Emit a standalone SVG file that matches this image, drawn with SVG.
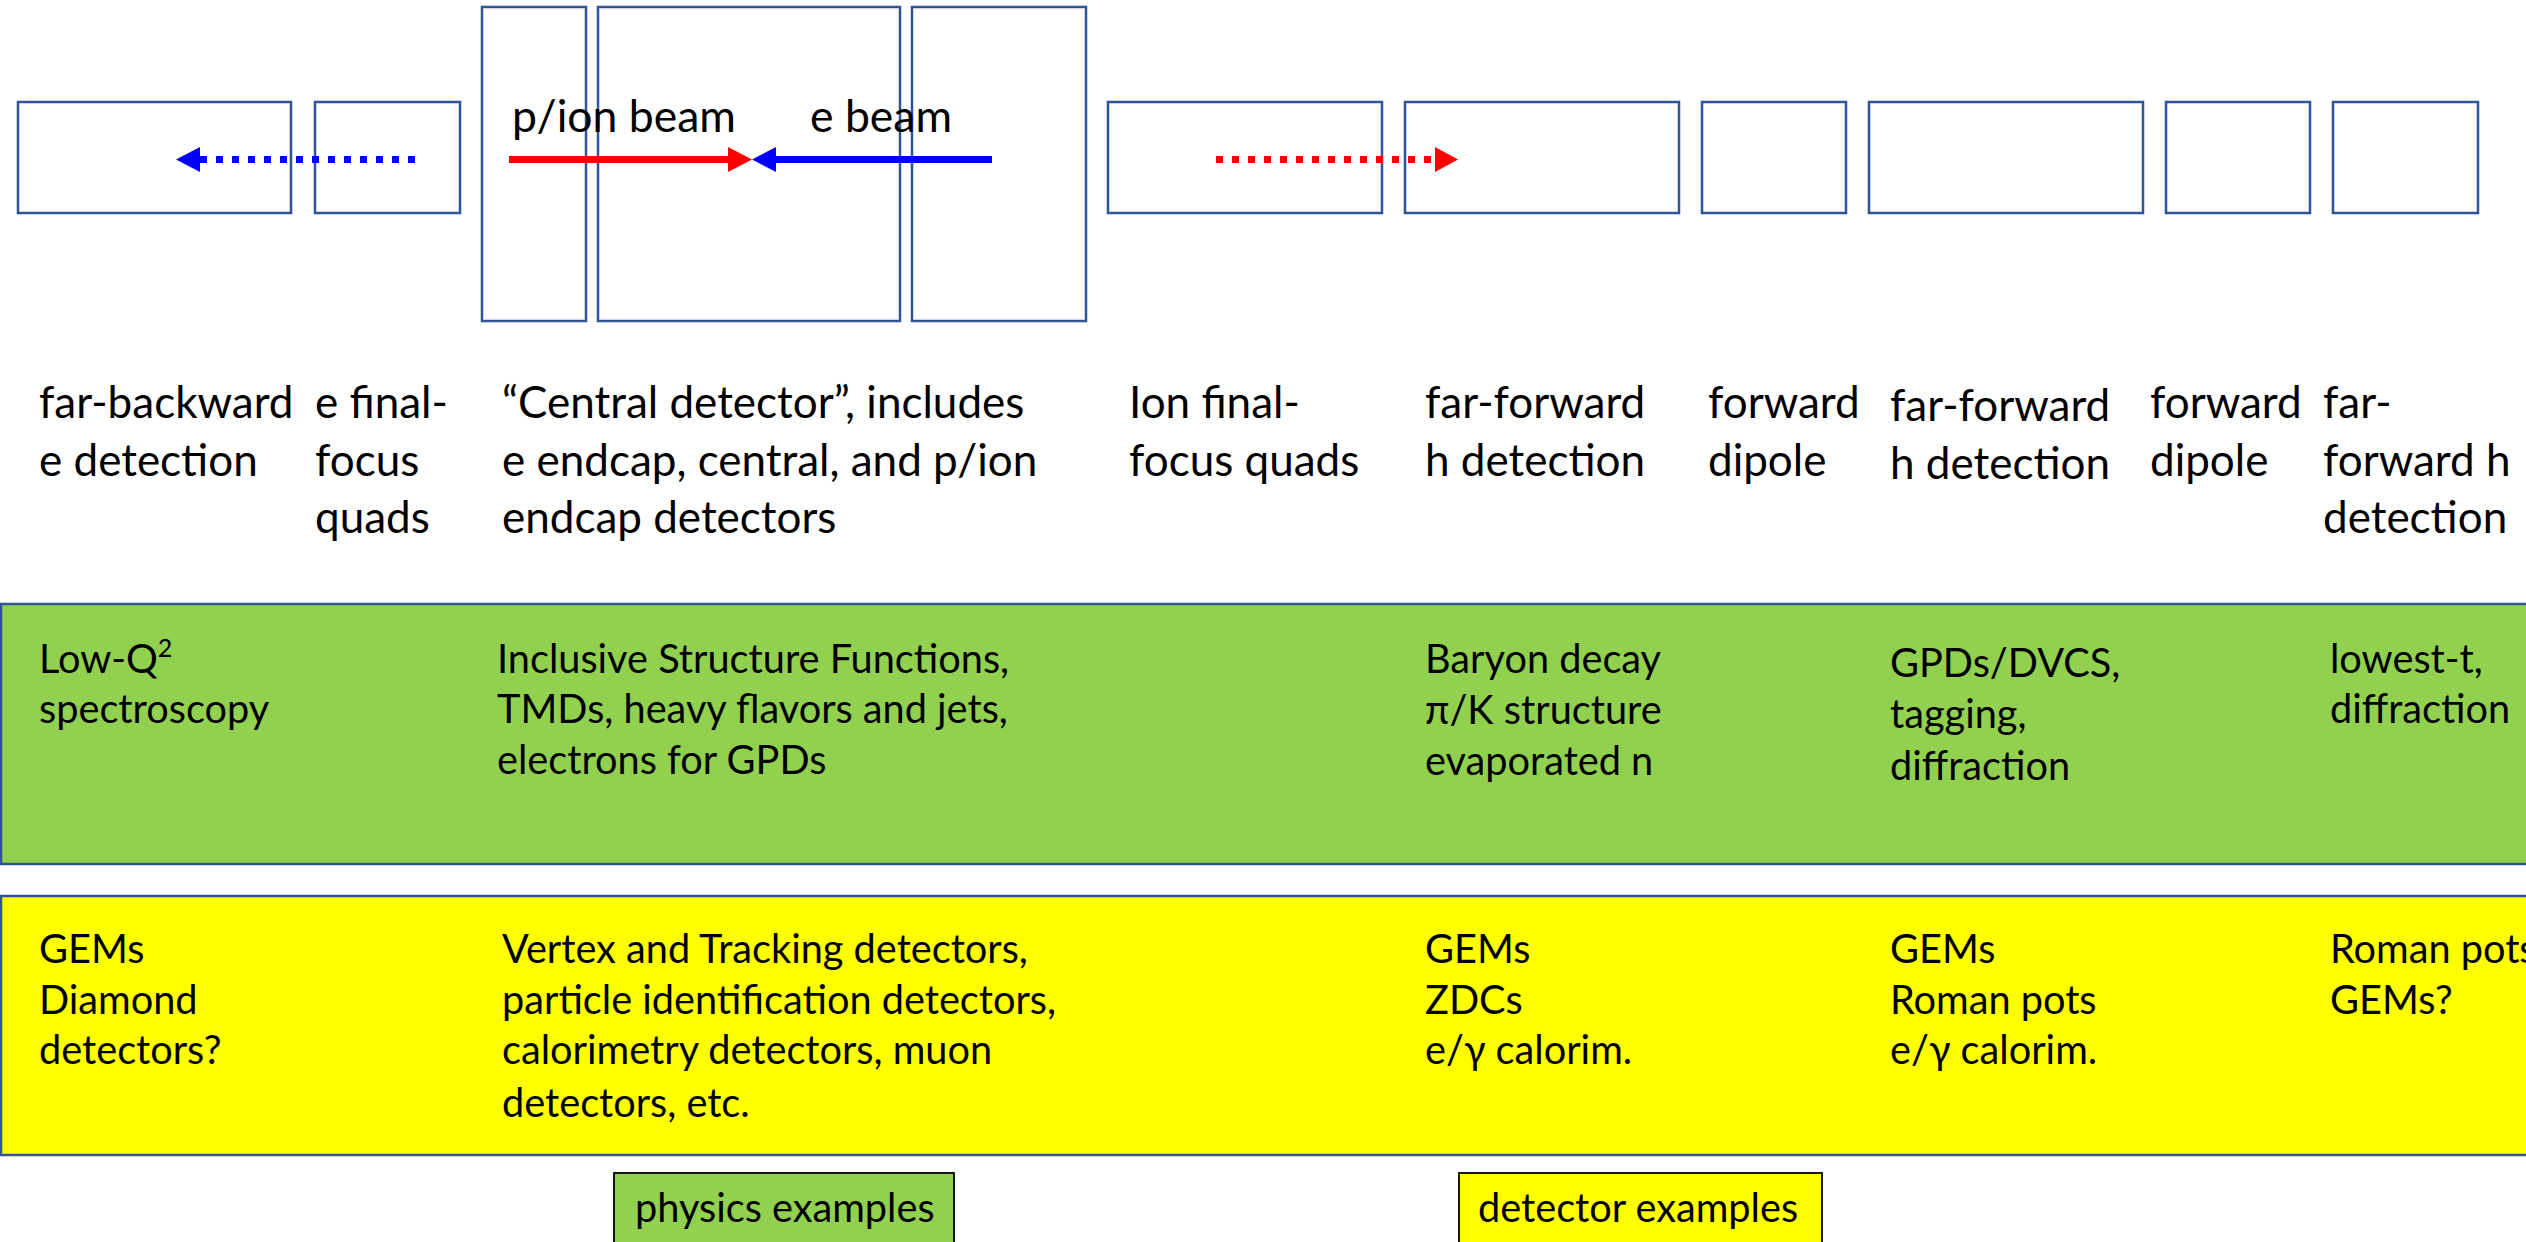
<svg xmlns="http://www.w3.org/2000/svg" width="2526" height="1242" viewBox="0 0 2526 1242">
  <style>
    .box { fill: #ffffff; stroke: #2F5597; stroke-width: 2.5; }
    .band { stroke: #2F5597; stroke-width: 2.5; }
    .green { fill: #92D050; }
    .yellow { fill: #FFFF00; }
    .key { stroke: #000000; stroke-width: 1.8; }
    text { font-family: Lato, "Liberation Sans", sans-serif; fill: #000000; }
    .lbl { font-size: 44px; }
    .beam { font-size: 44.5px; }
    .ex { font-size: 39.7px; }
    .shaft { fill: none; stroke-width: 7; }
    .dots { stroke-dasharray: 7 9; }
  </style>

  <!-- beamline elements -->
  <g id="far-backward-box"><rect class="box" x="18" y="102" width="273" height="111"/></g>
  <g id="e-ffq-box"><rect class="box" x="315" y="102" width="145" height="111"/></g>
  <g id="e-endcap-box"><rect class="box" x="482" y="7" width="104" height="314"/></g>
  <g id="central-box"><rect class="box" x="598" y="7" width="302" height="314"/></g>
  <g id="ion-endcap-box"><rect class="box" x="912" y="7" width="174" height="314"/></g>
  <g id="ion-ffq-box"><rect class="box" x="1108" y="102" width="274" height="111"/></g>
  <g id="far-forward-1-box"><rect class="box" x="1405" y="102" width="274" height="111"/></g>
  <g id="dipole-1-box"><rect class="box" x="1702" y="102" width="144" height="111"/></g>
  <g id="far-forward-2-box"><rect class="box" x="1869" y="102" width="274" height="111"/></g>
  <g id="dipole-2-box"><rect class="box" x="2166" y="102" width="144" height="111"/></g>
  <g id="far-forward-3-box"><rect class="box" x="2333" y="102" width="145" height="111"/></g>

  <!-- beam labels -->
  <g id="beam-labels">
    <text class="beam" x="512" y="132">p/ion beam</text>
    <text class="beam" x="810" y="132">e beam</text>
  </g>

  <!-- beams and outgoing particles -->
  <g id="connectors">
    <line class="shaft" x1="509" y1="159.5" x2="730" y2="159.5" stroke="#FF0000"/>
    <polygon points="728,147 752,159.5 728,172" fill="#FF0000"/>
    <line class="shaft" x1="774" y1="159.5" x2="992" y2="159.5" stroke="#0000FF"/>
    <polygon points="752,159.5 776,147 776,172" fill="#0000FF"/>
    <line class="shaft dots" x1="200" y1="159.5" x2="416" y2="159.5" stroke="#0000FF"/>
    <polygon points="176,159.5 200,147 200,172" fill="#0000FF"/>
    <line class="shaft dots" x1="1216" y1="159.5" x2="1434" y2="159.5" stroke="#FF0000"/>
    <polygon points="1435,147 1458,159.5 1435,172" fill="#FF0000"/>
  </g>

  <!-- element names -->
  <g id="element-labels">
    <text class="lbl" x="39" y="418">far-backward<tspan x="39" y="476">e detection</tspan></text>
    <text class="lbl" x="315" y="418">e final-<tspan x="315" y="476">focus</tspan><tspan x="315" y="533">quads</tspan></text>
    <text class="lbl" x="502" y="418">“Central detector”, includes<tspan x="502" y="476">e endcap, central, and p/ion</tspan><tspan x="502" y="533">endcap detectors</tspan></text>
    <text class="lbl" x="1129" y="418">Ion final-<tspan x="1129" y="476">focus quads</tspan></text>
    <text class="lbl" x="1425" y="418">far-forward<tspan x="1425" y="476">h detection</tspan></text>
    <text class="lbl" x="1708" y="418">forward<tspan x="1708" y="476">dipole</tspan></text>
    <text class="lbl" x="1890" y="421">far-forward<tspan x="1890" y="479">h detection</tspan></text>
    <text class="lbl" x="2150" y="418">forward<tspan x="2150" y="476">dipole</tspan></text>
    <text class="lbl" x="2323" y="418">far-<tspan x="2323" y="476">forward h</tspan><tspan x="2323" y="533">detection</tspan></text>
  </g>

  <!-- physics band -->
  <g id="physics-band">
    <rect class="band green" x="1" y="604" width="2540" height="260"/>
    <text class="ex" x="39" y="673">Low-Q<tspan font-size="25" dy="-16">2</tspan><tspan x="39" y="723">spectroscopy</tspan></text>
    <text class="ex" x="497" y="673">Inclusive Structure Functions,<tspan x="497" y="723">TMDs, heavy flavors and jets,</tspan><tspan x="497" y="774">electrons for GPDs</tspan></text>
    <text class="ex" x="1425" y="673">Baryon decay<tspan x="1425" y="724">π/K structure</tspan><tspan x="1425" y="775">evaporated n</tspan></text>
    <text class="ex" x="1890" y="677">GPDs/DVCS,<tspan x="1890" y="728">tagging,</tspan><tspan x="1890" y="780">diffraction</tspan></text>
    <text class="ex" x="2330" y="673">lowest-t,<tspan x="2330" y="723">diffraction</tspan></text>
  </g>

  <!-- detector band -->
  <g id="detector-band">
    <rect class="band yellow" x="1" y="896" width="2540" height="259"/>
    <text class="ex" x="39" y="963">GEMs<tspan x="39" y="1014">Diamond</tspan><tspan x="39" y="1064">detectors?</tspan></text>
    <text class="ex" x="502" y="963">Vertex and Tracking detectors,<tspan x="502" y="1014">particle identification detectors,</tspan><tspan x="502" y="1064">calorimetry detectors, muon</tspan><tspan x="502" y="1117">detectors, etc.</tspan></text>
    <text class="ex" x="1425" y="963">GEMs<tspan x="1425" y="1014">ZDCs</tspan><tspan x="1425" y="1064">e/γ calorim.</tspan></text>
    <text class="ex" x="1890" y="963">GEMs<tspan x="1890" y="1014">Roman pots</tspan><tspan x="1890" y="1064">e/γ calorim.</tspan></text>
    <text class="ex" x="2330" y="963">Roman pots<tspan x="2330" y="1014">GEMs?</tspan></text>
  </g>

  <!-- key -->
  <g id="key-physics">
    <rect class="key green" x="614" y="1173" width="340" height="100"/>
    <text class="ex" x="635" y="1222">physics examples</text>
  </g>
  <g id="key-detector">
    <rect class="key yellow" x="1459" y="1173" width="363" height="100"/>
    <text class="ex" x="1478" y="1222">detector examples</text>
  </g>
</svg>
